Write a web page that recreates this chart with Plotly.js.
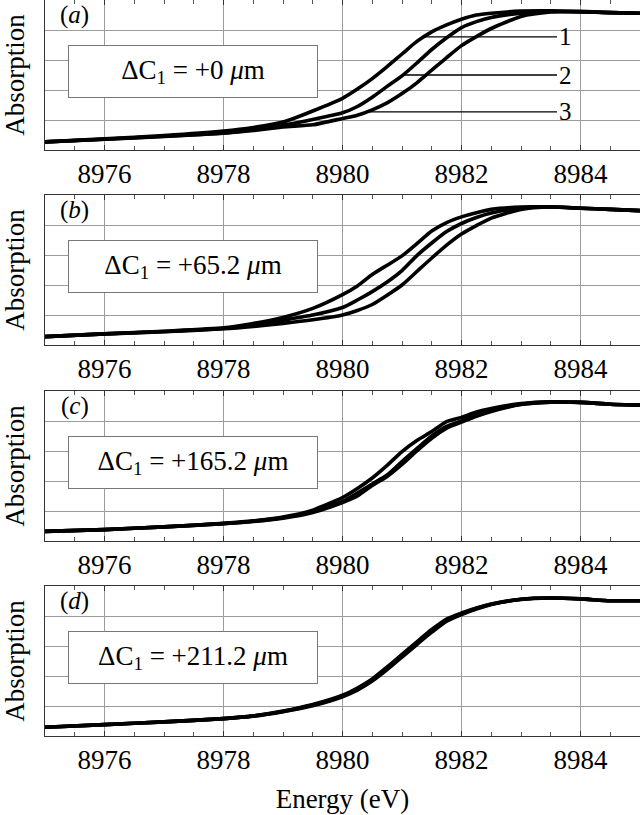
<!DOCTYPE html>
<html>
<head>
<meta charset="utf-8">
<script src="https://cdn.plot.ly/plotly-3.0.1.min.js"></script>
<style>
  body { margin: 0; background: #fff; }
  #plot { width: 640px; height: 815px; }
</style>
</head>
<body>
<div id="plot"></div>
<script>
// energy grid (eV)
var energy = [8975, 8976, 8977, 8978, 8978.5, 8979, 8979.5, 8980, 8980.25, 8980.5, 8980.75,
  8981, 8981.25, 8981.5, 8981.75, 8982, 8982.25, 8982.5, 8983, 8983.5, 8984, 8984.5, 8985];

// (a) dC1 = +0 um
var a1 = [0.27, 0.37, 0.48, 0.63, 0.75, 0.93, 1.3, 1.72, 2.03, 2.38, 2.78, 3.2, 3.62, 3.94, 4.17, 4.36, 4.5, 4.56, 4.63, 4.64, 4.6, 4.58, 4.56];
var a2 = [0.27, 0.36, 0.46, 0.57, 0.68, 0.83, 1.02, 1.24, 1.45, 1.76, 2.12, 2.47, 2.9, 3.35, 3.74, 4.08, 4.28, 4.42, 4.56, 4.62, 4.61, 4.58, 4.56];
var a3 = [0.27, 0.36, 0.45, 0.56, 0.65, 0.77, 0.84, 1.05, 1.16, 1.34, 1.57, 1.88, 2.24, 2.66, 3.08, 3.48, 3.78, 4.05, 4.45, 4.6, 4.62, 4.58, 4.56];

// (b) dC1 = +65.2 um
var b1 = [0.28, 0.37, 0.46, 0.57, 0.72, 0.92, 1.22, 1.68, 1.97, 2.35, 2.66, 2.97, 3.38, 3.8, 4.08, 4.27, 4.41, 4.52, 4.6, 4.6, 4.56, 4.52, 4.48];
var b2 = [0.28, 0.37, 0.45, 0.55, 0.67, 0.83, 1.0, 1.25, 1.5, 1.78, 2.1, 2.48, 2.98, 3.4, 3.78, 4.05, 4.25, 4.4, 4.57, 4.61, 4.56, 4.52, 4.48];
var b3 = [0.28, 0.37, 0.44, 0.54, 0.62, 0.72, 0.84, 1.0, 1.15, 1.35, 1.66, 2.0, 2.45, 2.9, 3.33, 3.7, 3.98, 4.23, 4.52, 4.6, 4.56, 4.52, 4.48];

// (c) dC1 = +165.2 um
var c1 = [0.32, 0.38, 0.47, 0.59, 0.67, 0.8, 1.03, 1.45, 1.75, 2.1, 2.52, 2.98, 3.35, 3.65, 3.98, 4.12, 4.3, 4.42, 4.58, 4.64, 4.62, 4.56, 4.53];
var c2 = [0.32, 0.38, 0.47, 0.58, 0.66, 0.78, 0.98, 1.32, 1.6, 1.9, 2.2, 2.65, 3.08, 3.5, 3.82, 4.0, 4.2, 4.35, 4.56, 4.63, 4.62, 4.56, 4.53];
var c3 = [0.32, 0.38, 0.47, 0.58, 0.65, 0.76, 0.95, 1.28, 1.5, 1.85, 2.15, 2.55, 3.0, 3.42, 3.76, 3.96, 4.16, 4.32, 4.55, 4.63, 4.62, 4.56, 4.53];

// (d) dC1 = +211.2 um
var d1 = [0.29, 0.38, 0.47, 0.58, 0.67, 0.83, 1.05, 1.36, 1.6, 1.9, 2.3, 2.72, 3.14, 3.55, 3.9, 4.1, 4.27, 4.4, 4.56, 4.6, 4.57, 4.51, 4.51];
var d2 = [0.29, 0.38, 0.47, 0.58, 0.67, 0.82, 1.03, 1.33, 1.56, 1.86, 2.25, 2.67, 3.09, 3.5, 3.86, 4.07, 4.25, 4.39, 4.56, 4.6, 4.57, 4.51, 4.51];
var d3 = [0.29, 0.38, 0.47, 0.58, 0.66, 0.81, 1.01, 1.31, 1.53, 1.83, 2.21, 2.63, 3.05, 3.46, 3.83, 4.05, 4.23, 4.38, 4.55, 4.6, 4.57, 4.51, 4.51];

var panelLetters = ["a", "b", "c", "d"];
var shifts = ["+0", "+65.2", "+165.2", "+211.2"];
var panels = [[a1, a2, a3], [b1, b2, b3], [c1, c2, c3], [d1, d2, d3]];

// curve labels in panel (a): level of each leader line, label text
var labelLevels = [3.77, 2.5, 1.27];
var labelNames = ["1", "2", "3"];
var labelX = 8983.74;

var domains = [[0.7962, 1], [0.53125, 0.73505], [0.26495, 0.46875], [0, 0.2038]];

var serif = "Liberation Serif";

var data = [];
panels.forEach(function(curves, i) {
  var s = i === 0 ? "" : String(i + 1);
  curves.forEach(function(ys) {
    data.push({
      x: energy,
      y: ys,
      xaxis: "x" + s,
      yaxis: "y" + s,
      mode: "lines",
      line: {color: "#000", width: 3.6, shape: "spline", smoothing: 0.6},
      hoverinfo: "skip"
    });
  });
});

var layout = {
  width: 640,
  height: 815,
  margin: {l: 45, r: 0, t: 0, b: 79},
  showlegend: false,
  paper_bgcolor: "#fff",
  plot_bgcolor: "#fff",
  font: {family: serif, size: 27, color: "#000"},
  annotations: [],
  shapes: []
};

panels.forEach(function(curves, i) {
  var s = i === 0 ? "" : String(i + 1);
  layout["xaxis" + s] = {
    anchor: "y" + s,
    domain: [0, 1],
    range: [8975, 8985],
    tick0: 8976,
    dtick: 2,
    ticks: "inside",
    ticklen: 5,
    tickcolor: "#333",
    showline: true,
    mirror: "ticks",
    linecolor: "#333",
    linewidth: 1,
    showgrid: true,
    gridcolor: "#9c9c9c",
    gridwidth: 1,
    zeroline: false,
    minor: {dtick: 0.5, ticks: "inside", ticklen: 4, tickcolor: "#555", showgrid: false},
    tickfont: {family: serif, size: 27},
    fixedrange: true
  };
  layout["yaxis" + s] = {
    anchor: "x" + s,
    domain: domains[i],
    range: [0, 5],
    dtick: 1,
    showticklabels: false,
    ticks: "",
    showline: true,
    mirror: true,
    linecolor: "#333",
    linewidth: 1,
    showgrid: true,
    gridcolor: "#9c9c9c",
    gridwidth: 1,
    zeroline: false,
    title: {text: "Absorption", font: {family: serif, size: 27}, standoff: 18},
    fixedrange: true
  };

  // panel letter
  layout.annotations.push({
    xref: "x" + s + " domain", yref: "y" + s + " domain",
    x: 0.05, y: 0.9, xanchor: "center", yanchor: "middle",
    text: "(<i>" + panelLetters[i] + "</i>)",
    showarrow: false,
    font: {family: serif, size: 25}
  });

  // dC1 box
  layout.annotations.push({
    xref: "x" + s + " domain", yref: "y" + s + " domain",
    x: 0.2487, y: 0.523, xanchor: "center", yanchor: "middle",
    text: "\u0394C<sub>1</sub> = " + shifts[i] + " <i>\u03bc</i>m",
    showarrow: false,
    width: 240, height: 43,
    bgcolor: "#fff", bordercolor: "#777", borderwidth: 1, borderpad: 4,
    font: {family: serif, size: 27}
  });
});

layout.xaxis4.title = {text: "Energy (eV)", font: {family: serif, size: 27}, standoff: 14};

// leader lines for curves 1-3 in panel (a): find where each curve reaches its level
function crossing(ys, level) {
  for (var k = 1; k < ys.length; k++) {
    if (ys[k - 1] <= level && ys[k] >= level) {
      var t = (level - ys[k - 1]) / (ys[k] - ys[k - 1]);
      return energy[k - 1] + t * (energy[k] - energy[k - 1]);
    }
  }
  return energy[0];
}
panels[0].forEach(function(ys, j) {
  layout.annotations.push({
    xref: "x", yref: "y", axref: "x", ayref: "y",
    x: crossing(ys, labelLevels[j]), y: labelLevels[j],
    ax: labelX, ay: labelLevels[j],
    text: labelNames[j],
    showarrow: true, arrowhead: 0, arrowwidth: 1.3, arrowcolor: "#000",
    font: {family: serif, size: 25}
  });
});

Plotly.newPlot("plot", data, layout, {staticPlot: true});
</script>
</body>
</html>
